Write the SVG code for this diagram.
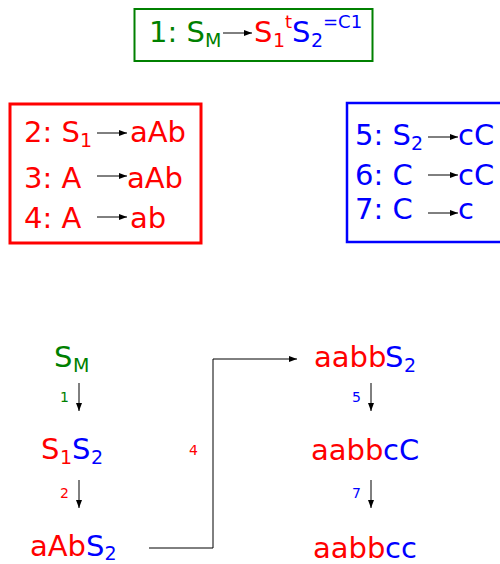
<svg xmlns="http://www.w3.org/2000/svg" width="500" height="564" viewBox="0 0 500 564">
<style>
text{font-family:"DejaVu Sans","Noto Sans",sans-serif}
.big{font-size:29px}
.sub{font-size:19px}
.sup{font-size:18px}
.lbl{font-size:14px}
.g{fill:#008000}
.r{fill:#ff0000}
.b{fill:#0000ff}
.arr{stroke:#000;stroke-width:1;fill:none;marker-end:url(#ah)}
</style>
<defs>
<marker id="ah" markerUnits="userSpaceOnUse" markerWidth="8" markerHeight="6" refX="8" refY="3" orient="auto">
<path d="M0,0 L8,3 L0,6 z" fill="#000"/>
</marker>
</defs>
<g id="rule1">
<rect x="134.5" y="9" width="238" height="52" fill="none" stroke="#008000" stroke-width="2"/>
<text class="big g" x="149" y="42">1: S<tspan class="sub" x="205" y="47">M</tspan></text>
<line class="arr" x1="223" y1="33" x2="252" y2="33"/>
<text class="big"><tspan class="r" x="254" y="42">S</tspan><tspan class="sub r" x="273" y="47">1</tspan><tspan class="sup r" x="285" y="28">t</tspan><tspan class="b" x="292" y="42">S</tspan><tspan class="sub b" x="311" y="47">2</tspan><tspan class="sup b" x="323" y="28">=C1</tspan></text>
</g>
<g id="rules2to4">
<rect x="10" y="104" width="191" height="139" fill="none" stroke="#ff0000" stroke-width="3"/>
<text class="big r" x="24" y="142">2: S<tspan class="sub" x="80" y="147">1</tspan></text>
<line class="arr" x1="97" y1="133" x2="127" y2="133"/>
<text class="big r" x="130" y="142">aAb</text>
<text class="big r" x="24" y="188">3: A</text>
<line class="arr" x1="97" y1="176" x2="127" y2="176"/>
<text class="big r" x="127" y="188">aAb</text>
<text class="big r" x="24" y="228">4: A</text>
<line class="arr" x1="97" y1="217" x2="127" y2="217"/>
<text class="big r" x="130" y="228">ab</text>
</g>
<g id="rules5to7">
<rect x="347" y="103" width="160" height="139" fill="none" stroke="#0000ff" stroke-width="2.5"/>
<text class="big b" x="355" y="145">5: S<tspan class="sub" x="411" y="150">2</tspan></text>
<line class="arr" x1="428" y1="137" x2="458" y2="137"/>
<text class="big b" x="458" y="145">cC</text>
<text class="big b" x="355" y="185">6: C</text>
<line class="arr" x1="428" y1="175" x2="458" y2="175"/>
<text class="big b" x="458" y="185">cC</text>
<text class="big b" x="355" y="219">7: C</text>
<line class="arr" x1="428" y1="213" x2="458" y2="213"/>
<text class="big b" x="458" y="219">c</text>
</g>
<g id="n_SM">
<text class="big g" x="54" y="367">S<tspan class="sub" x="73" y="372">M</tspan></text>
</g>
<g id="n_S1S2">
<text class="big"><tspan class="r" x="41" y="459">S</tspan><tspan class="sub r" x="60" y="464">1</tspan><tspan class="b" x="72" y="459">S</tspan><tspan class="sub b" x="91" y="464">2</tspan></text>
</g>
<g id="n_aAbS2">
<text class="big"><tspan class="r" x="30" y="556">aAb</tspan><tspan class="b" x="86" y="556">S</tspan><tspan class="sub b" x="104.5" y="560">2</tspan></text>
</g>
<g id="n_aabbS2">
<text class="big"><tspan class="r" x="314" y="367">aabb</tspan><tspan class="b" x="385" y="367">S</tspan><tspan class="sub b" x="404" y="372">2</tspan></text>
</g>
<g id="n_aabbcC">
<text class="big"><tspan class="r" x="311" y="460">aabb</tspan><tspan class="b" x="383" y="460">cC</tspan></text>
</g>
<g id="n_aabbcc">
<text class="big"><tspan class="r" x="313" y="558">aabb</tspan><tspan class="b" x="385" y="558">cc</tspan></text>
</g>
<g id="connectors">
<line class="arr" x1="79" y1="383" x2="79" y2="411"/>
<text class="lbl g" x="60" y="402">1</text>
<line class="arr" x1="79" y1="480" x2="79" y2="508"/>
<text class="lbl r" x="60" y="498">2</text>
<polyline class="arr" points="149,548 213,548 213,359 297,359"/>
<text class="lbl r" x="189" y="455">4</text>
<line class="arr" x1="371" y1="383" x2="371" y2="411"/>
<text class="lbl b" x="352" y="402">5</text>
<line class="arr" x1="371" y1="480" x2="371" y2="508"/>
<text class="lbl b" x="352" y="498">7</text>
</g>
</svg>
